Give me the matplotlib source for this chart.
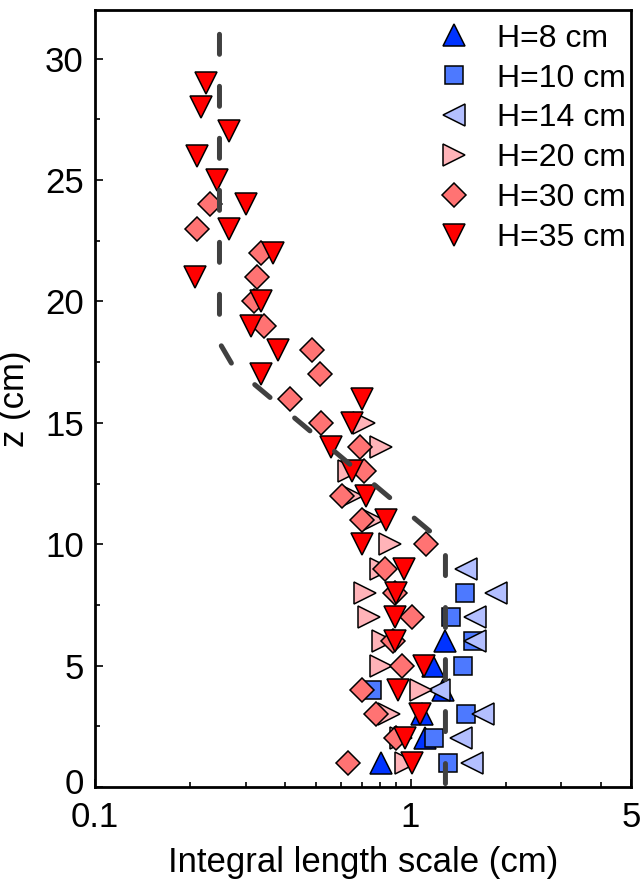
import numpy as np
import matplotlib.pyplot as plt
from matplotlib.ticker import FixedLocator, NullFormatter
from matplotlib.transforms import ScaledTranslation

plt.rcParams['font.family'] = ['Liberation Sans', 'DejaVu Sans']

# integral length scale (cm) at each height z (cm)
z8 = [1, 2, 3, 4, 5, 6]
L8 = [0.805, 1.11, 1.09, 1.27, 1.18, 1.29]

z10 = [1, 2, 3, 4, 5, 6, 7, 8]
L10 = [1.31, 1.19, 1.50, 0.753, 1.47, 1.58, 1.34, 1.49]

z14 = [1, 2, 3, 4, 6, 7, 8, 9]
L14 = [1.57, 1.45, 1.70, 1.23, 1.60, 1.60, 1.87, 1.50]

z20 = [1, 2, 3, 4, 5, 6, 7, 8, 9, 10, 11, 12, 13, 14, 15]
L20 = [0.97, 0.93, 0.852, 1.08, 0.805, 0.82, 0.737, 0.716, 0.805, 0.86,
       0.76, 0.65, 0.64, 0.805, 0.71]

z30 = list(range(1, 25))
L30 = [0.634, 0.898, 0.775, 0.70, 0.937, 0.88, 1.01, 0.89, 0.83, 1.12,
       0.70, 0.606, 0.71, 0.69, 0.52, 0.415, 0.516, 0.487, 0.344, 0.32,
       0.327, 0.337, 0.211, 0.232]

z35 = list(range(1, 30))
L35 = [1.01, 0.96, 1.07, 0.911, 1.10, 0.89, 0.89, 0.90, 0.95, 0.70,
       0.836, 0.725, 0.652, 0.56, 0.65, 0.70, 0.337, 0.381, 0.313, 0.337,
       0.207, 0.367, 0.266, 0.302, 0.243, 0.211, 0.265, 0.216, 0.224]

# model curve (dashed)
model_L = [0.248, 0.248, 0.275, 1.29, 1.29]
model_z = [31.0, 18.3, 17.3, 10.0, 0.0]

series = [
    (L8, z8, '^', '#0033ff', 16.5, 'H=8 cm'),
    (L10, z10, 's', '#4d79ff', 12.5, 'H=10 cm'),
    (L14, z14, '<', '#b3bfff', 16.5, 'H=14 cm'),
    (L20, z20, '>', '#ffb3b8', 16.5, 'H=20 cm'),
    (L30, z30, 'D', '#ff7373', 12.5, 'H=30 cm'),
    (L35, z35, 'v', '#ff0000', 16.5, 'H=35 cm'),
]

fig = plt.figure(figsize=(6.42, 8.88), dpi=100)
ax = fig.add_axes([0.148, 0.1137, 0.835, 0.875])

for L, z, m, c, ms, lab in series:
    ax.plot(L, z, linestyle='none', marker=m, ms=ms, mfc=c, mec='black',
            mew=1.1, label=lab)

ax.plot(model_L, model_z, color='#404040', lw=3.6, dash_capstyle='round',
        linestyle=(0, (4, 6.4)), zorder=5)

ax.set_xscale('log')
ax.set_xlim(0.1, 5)
ax.set_ylim(0, 32)
ax.xaxis.set_major_locator(FixedLocator([0.1, 1, 5]))
ax.xaxis.set_minor_locator(FixedLocator([0.2, 0.3, 0.4, 0.5, 0.6, 0.7, 0.8, 0.9, 2, 3, 4]))
ax.xaxis.set_minor_formatter(NullFormatter())
ax.set_xticklabels(['0.1', '1', '5'])
ax.yaxis.set_major_locator(FixedLocator([0, 5, 10, 15, 20, 25, 30]))
ax.yaxis.set_minor_locator(FixedLocator(np.arange(2.5, 32, 5)))

ax.tick_params(which='both', direction='in', top=False, right=False,
               width=1.2, labelsize=25)
ax.tick_params(which='major', length=6, pad=10)
ax.tick_params(axis='y', which='major', pad=8)
ax.tick_params(which='minor', length=3.6)
for s in ax.spines.values():
    s.set_linewidth(2)

# nudge the "0" on the y axis up a little so it clears "0.1"
zero_lbl = ax.yaxis.get_major_ticks()[0].label1
zero_lbl.set_transform(zero_lbl.get_transform()
                       + ScaledTranslation(0, 4 / 72, fig.dpi_scale_trans))

ax.set_xlabel('Integral length scale (cm)', fontsize=25, labelpad=9)
ax.set_ylabel('z (cm)', fontsize=25, labelpad=10)

ax.legend(loc='upper right', frameon=False, fontsize=23, numpoints=1,
          handletextpad=0.35, labelspacing=0.31, borderaxespad=0.1,
          bbox_to_anchor=(1.02, 1.003))

fig.savefig('out.png', dpi=100)
